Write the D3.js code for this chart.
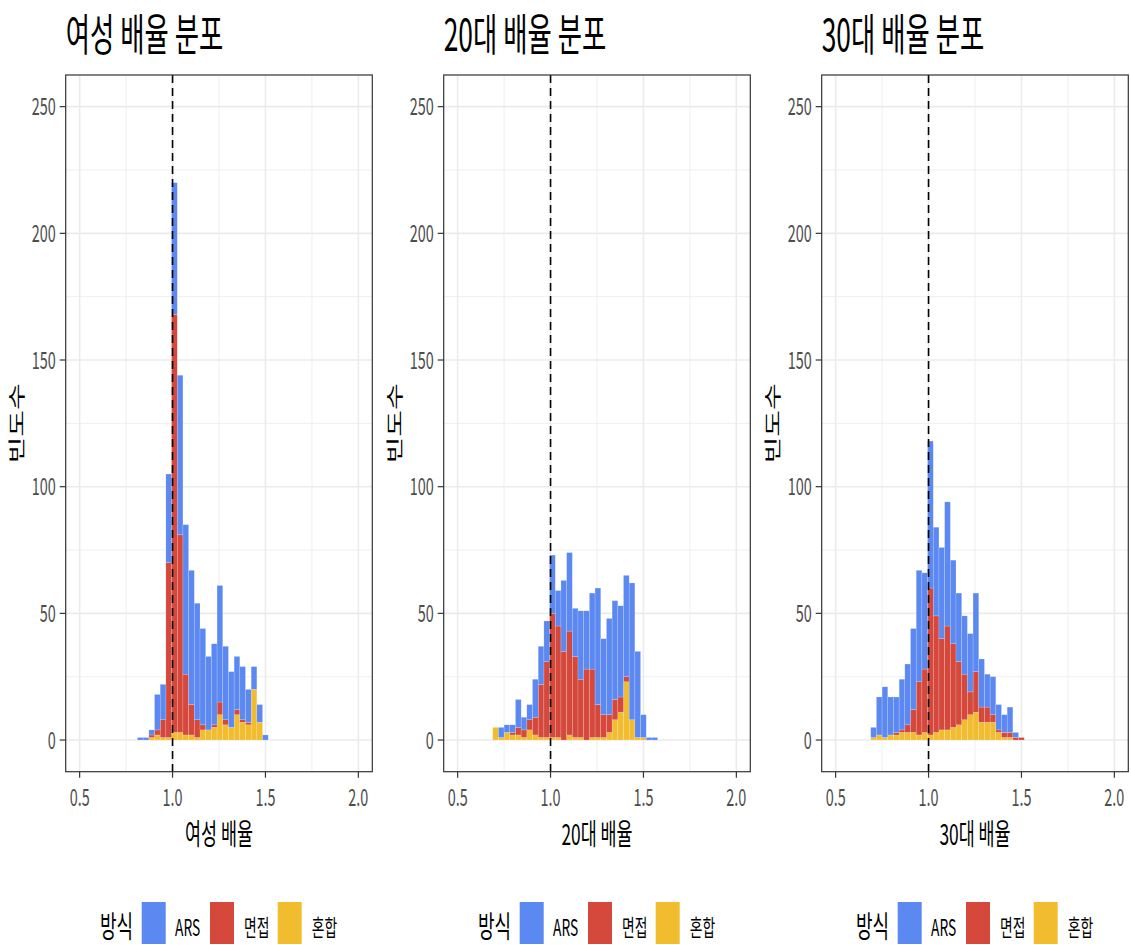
<!DOCTYPE html>
<html>
<head>
<meta charset="utf-8">
<script src="https://cdn.jsdelivr.net/npm/d3@7"></script>
<style>
  body { margin: 0; background: #fff; }
  text { font-family: "Noto Sans CJK KR", "Noto Sans", sans-serif; font-weight: 400; }
</style>
</head>
<body>
<div id="chart"></div>
<script>
// method names and colours (ggplot stacks first level on top)
var methods = ["ARS", "면접", "혼합"];
var methodColors = ["#5b88f1", "#d4493b", "#f2bc2f"];

// histogram bins: 50 bins over [0.5, 2.0]
var binWidth = 0.0306;

// panel 1: 여성 배율 (first bin left edge, then counts per bin)
var femaleStart = 0.8112;
var femaleARS = [1, 1, 2, 14, 14, 35, 52, 63, 59, 53, 46, 38, 29, 32, 46, 29, 22, 21, 21, 13, 9, 7, 2];
var femaleInterview = [0, 0, 1, 2, 7, 69, 165, 78, 24, 12, 7, 2, 0, 1, 5, 2, 0, 2, 1, 1, 0, 0, 0];
var femaleMixed = [0, 0, 1, 2, 1, 1, 3, 3, 2, 2, 1, 4, 4, 5, 10, 6, 5, 10, 7, 6, 20, 7, 0];

// panel 2: 20대 배율
var age20Start = 0.6888;
var age20ARS = [0, 4, 3, 3, 11, 5, 6, 15, 15, 16, 23, 14, 28, 31, 19, 27, 23, 30, 46, 30, 38, 39, 36, 40, 54, 34, 9, 1, 1];
var age20Interview = [0, 0, 0, 1, 3, 3, 4, 7, 21, 30, 49, 44, 35, 41, 32, 23, 28, 27, 13, 9, 7, 8, 6, 2, 0, 0, 0, 0, 0];
var age20Mixed = [5, 1, 3, 2, 2, 1, 4, 2, 1, 1, 1, 1, 0, 2, 1, 1, 0, 1, 1, 1, 3, 8, 11, 23, 8, 1, 1, 0, 0];

// panel 3: 30대 배율
var age30Start = 0.6888;
var age30ARS = [4, 15, 20, 15, 14, 20, 24, 32, 44, 38, 58, 35, 36, 49, 33, 27, 23, 23, 31, 19, 13, 15, 10, 7, 10, 2, 0];
var age30Interview = [0, 0, 0, 0, 1, 1, 3, 9, 21, 25, 58, 46, 36, 41, 33, 25, 18, 9, 16, 6, 6, 3, 1, 2, 2, 1, 1];
var age30Mixed = [1, 2, 1, 2, 2, 3, 3, 3, 2, 3, 2, 3, 4, 4, 5, 6, 8, 10, 11, 7, 7, 7, 3, 1, 1, 0, 0];

var xTicks = [0.5, 1.0, 1.5, 2.0];
var yTicks = [0, 50, 100, 150, 200, 250];
var refLine = 1.0;

var panels = [
  {title: "여성 배율 분포", xlab: "여성 배율", start: femaleStart, ars: femaleARS, interview: femaleInterview, mixed: femaleMixed},
  {title: "20대 배율 분포", xlab: "20대 배율", start: age20Start, ars: age20ARS, interview: age20Interview, mixed: age20Mixed},
  {title: "30대 배율 분포", xlab: "30대 배율", start: age30Start, ars: age30ARS, interview: age30Interview, mixed: age30Mixed}
];

var W = 1131, H = 945;
var squeeze = 0.6;       // text in the picture is horizontally condensed
var panelStep = 378;
var plotLeft = 65.7, plotWidth = 306.6, plotTop = 75, plotBottom = 771.7;

var svg = d3.select("#chart").append("svg")
  .attr("width", W)
  .attr("height", H);

function label(g, x, y, str, size, anchor, fill, rotate) {
  return g.append("text")
    .attr("transform", "translate(" + x + "," + y + ") scale(" + squeeze + ",1)" + (rotate ? " rotate(-90)" : ""))
    .attr("text-anchor", anchor)
    .attr("font-size", size)
    .attr("fill", fill)
    .text(str);
}

var x = d3.scaleLinear().domain([0.425, 2.075]).range([0, plotWidth]);
var y = d3.scaleLinear().domain([-12.5, 262.5]).range([plotBottom - plotTop, 0]);

panels.forEach(function (p, i) {
  var ox = plotLeft + i * panelStep;
  var g = svg.append("g").attr("transform", "translate(" + ox + "," + plotTop + ")");
  var ph = plotBottom - plotTop;

  // grid
  var minorX = d3.range(0.75, 2.0, 0.5);
  var minorY = d3.range(25, 262, 50);
  g.selectAll(".gxm").data(minorX).enter().append("line")
    .attr("x1", d => x(d)).attr("x2", d => x(d)).attr("y1", 0).attr("y2", ph)
    .attr("stroke", "#ebebeb").attr("stroke-width", 0.8);
  g.selectAll(".gym").data(minorY).enter().append("line")
    .attr("x1", 0).attr("x2", plotWidth).attr("y1", d => y(d)).attr("y2", d => y(d))
    .attr("stroke", "#ebebeb").attr("stroke-width", 0.8);
  g.selectAll(".gx").data(xTicks).enter().append("line")
    .attr("x1", d => x(d)).attr("x2", d => x(d)).attr("y1", 0).attr("y2", ph)
    .attr("stroke", "#ebebeb").attr("stroke-width", 1.6);
  g.selectAll(".gy").data(yTicks).enter().append("line")
    .attr("x1", 0).attr("x2", plotWidth).attr("y1", d => y(d)).attr("y2", d => y(d))
    .attr("stroke", "#ebebeb").attr("stroke-width", 1.6);

  // stacked histogram
  var rows = p.ars.map(function (v, j) {
    return {x0: p.start + j * binWidth, "ARS": v, "면접": p.interview[j], "혼합": p.mixed[j]};
  });
  var stack = d3.stack().keys(["혼합", "면접", "ARS"]);
  var layers = stack(rows);
  g.selectAll(".layer").data(layers).enter().append("g")
    .attr("fill", d => methodColors[methods.indexOf(d.key)])
    .selectAll("rect").data(d => d.filter(s => s[1] > s[0])).enter().append("rect")
    .attr("x", d => x(d.data.x0))
    .attr("width", x(binWidth) - x(0))
    .attr("y", d => y(d[1]))
    .attr("height", d => y(d[0]) - y(d[1]))
    .attr("stroke", "rgba(255,255,255,0.35)")
    .attr("stroke-width", 0.5);

  // reference line
  g.append("line")
    .attr("x1", x(refLine)).attr("x2", x(refLine))
    .attr("y1", 0).attr("y2", ph)
    .attr("stroke", "#000").attr("stroke-width", 1.6)
    .attr("stroke-dasharray", "8,5");

  // frame
  g.append("rect").attr("width", plotWidth).attr("height", ph)
    .attr("fill", "none").attr("stroke", "#333").attr("stroke-width", 1.2);

  // axes ticks
  g.selectAll(".tx").data(xTicks).enter().append("line")
    .attr("x1", d => x(d)).attr("x2", d => x(d)).attr("y1", ph).attr("y2", ph + 6)
    .attr("stroke", "#333").attr("stroke-width", 1.2);
  g.selectAll(".ty").data(yTicks).enter().append("line")
    .attr("x1", -6).attr("x2", 0).attr("y1", d => y(d)).attr("y2", d => y(d))
    .attr("stroke", "#333").attr("stroke-width", 1.2);

  xTicks.forEach(function (t) {
    label(g, x(t), ph + 34, d3.format(".1f")(t), 24, "middle", "#4d4d4d");
  });
  yTicks.forEach(function (t) {
    label(g, -10, y(t) + 8.5, String(t), 24, "end", "#4d4d4d");
  });

  // titles
  label(g, 0, -24, p.title, 44, "start", "#000");
  label(g, plotWidth / 2, ph + 73, p.xlab, 29, "middle", "#000");
  label(g, -43, ph / 2, "빈도수", 29, "middle", "#000", true);

  // legend
  var lg = svg.append("g").attr("transform", "translate(" + (100 + i * panelStep) + ",0)");
  label(lg, 0, 937, "방식", 30, "start", "#000");
  var keyX = [41.7, 110, 177.7];
  var textX = [75, 144, 211.7];
  methods.forEach(function (m, j) {
    lg.append("rect").attr("x", keyX[j]).attr("y", 902).attr("width", 24).attr("height", 42)
      .attr("fill", methodColors[j]);
    label(lg, textX[j], 936, m, 23, "start", "#000");
  });
});
</script>
</body>
</html>
